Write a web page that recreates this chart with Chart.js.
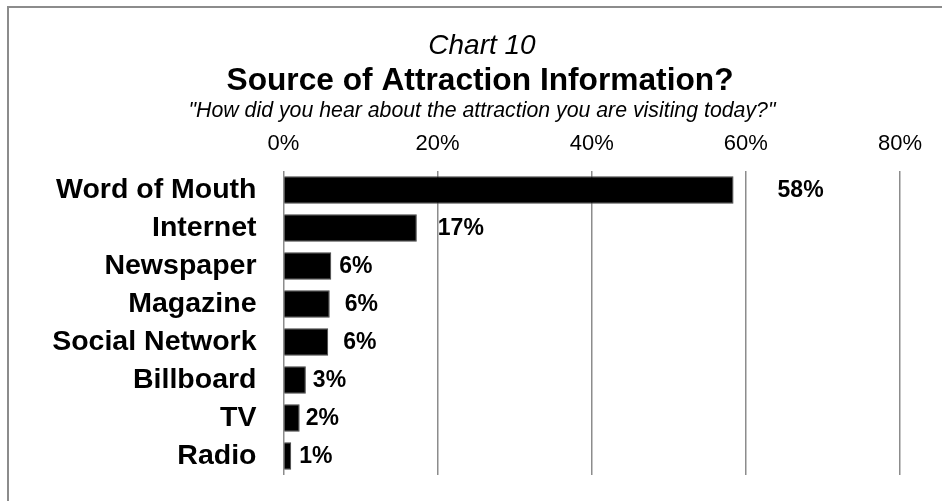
<!DOCTYPE html>
<html>
<head>
<meta charset="utf-8">
<script src="https://cdn.jsdelivr.net/npm/chart.js@4.4.1/dist/chart.umd.min.js"></script>
<style>
    html, body { margin: 0; padding: 0; background: #fff; }
    #wrap { width: 942px; height: 501px; position: relative; }
</style>
</head>
<body>
<div id="wrap"><canvas id="sourceChart"></canvas></div>
<script>
const categories = ['Word of Mouth', 'Internet', 'Newspaper', 'Magazine', 'Social Network', 'Billboard', 'TV', 'Radio'];
const shares = [58.4, 17.3, 6.2, 6.0, 5.8, 2.9, 2.1, 1.0];
const valueLabels = ['58%', '17%', '6%', '6%', '6%', '3%', '2%', '1%'];
const tickValues = [0, 20, 40, 60, 80];
const headings = ['Chart 10', 'Source of Attraction Information?', '"How did you hear about the attraction you are visiting today?"'];

// gap in px between a bar end and its label, the labels were nudged by hand in the original
const labelGap = [44, 21, 8, 15, 15, 7, 6, 8];

const FONT = '"Liberation Sans", Arial, sans-serif';
Chart.defaults.font.family = FONT;
Chart.defaults.color = '#000';

const decorations = {
    id: 'decorations',
    beforeDraw(chart) {
        const ctx = chart.ctx;
        ctx.save();
        ctx.fillStyle = '#fff';
        ctx.fillRect(0, 0, chart.width, chart.height);
        ctx.strokeStyle = '#8c8c8c';
        ctx.lineWidth = 2;
        ctx.strokeRect(8, 7, chart.width + 20, chart.height + 20);

        ctx.fillStyle = '#000';
        ctx.textAlign = 'center';
        ctx.textBaseline = 'alphabetic';
        ctx.font = 'italic 28px ' + FONT;
        ctx.fillText(headings[0], 482, 54);
        ctx.font = 'bold 31.7px ' + FONT;
        ctx.fillText(headings[1], 480, 90);
        ctx.font = 'italic 21.3px ' + FONT;
        ctx.fillText(headings[2], 482, 117);
        ctx.restore();
    },
    afterDatasetsDraw(chart) {
        const ctx = chart.ctx;
        const bars = chart.getDatasetMeta(0).data;
        ctx.save();
        ctx.fillStyle = '#000';
        ctx.font = 'bold 23px ' + FONT;
        ctx.textAlign = 'left';
        ctx.textBaseline = 'middle';
        bars.forEach(function(bar, i) {
            ctx.fillText(valueLabels[i], bar.x + labelGap[i], bar.y + 1);
        });
        ctx.restore();
    }
};

const ctx = document.getElementById('sourceChart').getContext('2d');

const chart = new Chart(ctx, {
    type: 'bar',
    data: {
        labels: categories,
        datasets: [{
            data: shares,
            backgroundColor: '#000',
            borderColor: '#444',
            borderWidth: 1,
            barPercentage: 0.72,
            categoryPercentage: 1
        }]
    },
    options: {
        indexAxis: 'y',
        responsive: true,
        maintainAspectRatio: false,
        animation: false,
        layout: {
            padding: { left: 0, right: 42, top: 120, bottom: 26 }
        },
        scales: {
            x: {
                position: 'top',
                min: 0,
                max: 80,
                afterBuildTicks: function(scale) {
                    scale.ticks = tickValues.map(v => ({ value: v }));
                },
                afterFit: function(scale) {
                    scale.height = 51;
                    scale.paddingLeft = 0;
                    scale.paddingRight = 0;
                },
                ticks: {
                    padding: 14,
                    font: { size: 22 },
                    callback: function(value) { return value + '%'; }
                },
                grid: {
                    color: '#8c8c8c',
                    lineWidth: 1.5,
                    drawTicks: false
                },
                border: { display: false }
            },
            y: {
                afterFit: function(scale) {
                    scale.width = 283.5;
                    scale.paddingTop = 0;
                    scale.paddingBottom = 0;
                },
                ticks: {
                    autoSkip: false,
                    padding: 27,
                    font: { size: 28.5, weight: 'bold' }
                },
                grid: { display: false, drawTicks: false },
                border: { display: false }
            }
        },
        plugins: {
            legend: { display: false },
            title: { display: false },
            tooltip: { enabled: false }
        }
    },
    plugins: [decorations]
});
</script>
</body>
</html>
